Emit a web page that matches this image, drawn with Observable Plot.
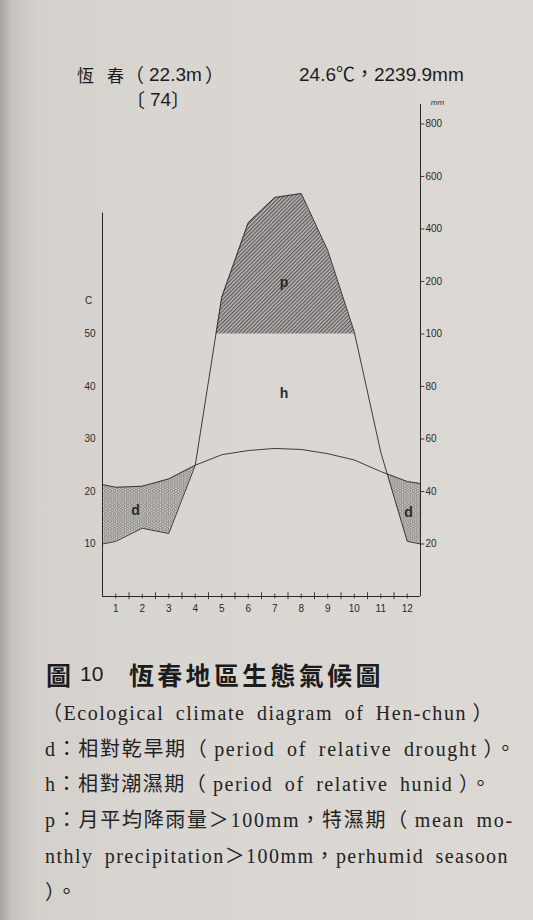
<!DOCTYPE html>
<html lang="zh-Hant"><head><meta charset="utf-8">
<script src="https://cdn.jsdelivr.net/npm/d3@7"></script>
<script src="https://cdn.jsdelivr.net/npm/@observablehq/plot@0.6"></script>
<style>
html,body{margin:0;padding:0}
body{width:533px;height:920px;position:relative;overflow:hidden;
 background:linear-gradient(90deg,#a7a4a0 0px,#c6c3bf 12px,#d4d1cd 36px,#d9d6d2 160px,#dcd9d5 533px);
 color:#1c1c1c;font-family:"Liberation Sans","Noto Sans CJK TC",sans-serif}
.t{position:absolute;white-space:nowrap;line-height:24px}
.cap{position:absolute;white-space:nowrap;left:45px;font-family:"Liberation Serif","Noto Sans CJK TC",serif;font-size:20px;line-height:30px;letter-spacing:1.5px;word-spacing:5px;color:#222}
#chart{position:absolute;left:0;top:90px}
#chart g[aria-label="temperature ticks"] text,
#chart g[aria-label="precipitation ticks"] text,
#chart g[aria-label="unit"] text{letter-spacing:2.6px}
</style></head><body>
<svg width="0" height="0" style="position:absolute">
 <defs>
  <pattern id="dots" patternUnits="userSpaceOnUse" width="4.4" height="7.6">
    <rect width="4.4" height="7.6" fill="#cbc8c4"/>
    <circle cx="2.2" cy="1.9" r="1.45" fill="none" stroke="#5f5d5b" stroke-width="0.65"/>
    <circle cx="0" cy="5.7" r="1.45" fill="none" stroke="#5f5d5b" stroke-width="0.65"/>
    <circle cx="4.4" cy="5.7" r="1.45" fill="none" stroke="#5f5d5b" stroke-width="0.65"/>
  </pattern>
  <pattern id="hatch" patternUnits="userSpaceOnUse" width="2.7" height="2.7" patternTransform="rotate(45)">
    <rect width="2.7" height="2.7" fill="#b4b1ae"/>
    <line x1="0.6" y1="0" x2="0.6" y2="2.7" stroke="#4a4948" stroke-width="0.95"/>
  </pattern>
 </defs>
</svg>

<div class="t" style="left:77px;top:63px;font-family:'Noto Sans CJK TC';font-size:17px">恆</div>
<div class="t" style="left:107px;top:63px;font-family:'Noto Sans CJK TC';font-size:17px">春</div>
<div class="t" style="left:125px;top:63px;font-family:'Noto Sans CJK TC';font-size:19px">（</div>
<div class="t" style="left:149px;top:63px;font-size:19px">22.3m</div>
<div class="t" style="left:205px;top:63px;font-family:'Noto Sans CJK TC';font-size:19px">）</div>
<div class="t" style="left:126px;top:88px;font-family:'Noto Sans CJK TC';font-size:19px">〔</div>
<div class="t" style="left:150px;top:88px;font-size:19px">74</div>
<div class="t" style="left:171px;top:88px;font-family:'Noto Sans CJK TC';font-size:19px">〕</div>
<div class="t" style="left:299px;top:63px;font-size:19px">24.6℃，2239.9mm</div>

<div id="chart"></div>

<div class="t" style="left:46px;top:659px;font-family:'Noto Sans CJK TC';font-weight:700;font-size:25px;line-height:30px">圖</div>
<div class="t" style="left:80px;top:659px;font-family:'Liberation Sans';font-size:21px;line-height:30px">10</div>
<div class="t" style="left:129px;top:659px;font-family:'Noto Sans CJK TC';font-weight:700;font-size:25px;line-height:30px;letter-spacing:3.3px">恆春地區生態氣候圖</div>

<div class="cap" data-right="494" style="top:698px;left:42px">（Ecological climate diagram of Hen-chun&thinsp;）</div>
<div class="cap" data-right="517" style="top:734px">d：相對乾旱期（&thinsp;period of relative drought&thinsp;）。</div>
<div class="cap" data-right="492" style="top:769px">h：相對潮濕期（&thinsp;period of relative hunid&thinsp;）。</div>
<div class="cap" data-right="514" style="top:805px">p：月平均降雨量＞100mm，特濕期（&thinsp;mean mo-</div>
<div class="cap" data-right="509" style="top:841px">nthly precipitation＞100mm，perhumid seasoon</div>
<div class="cap" style="top:877px">）。</div>

<script>
// ---- data ----
const months = [1,2,3,4,5,6,7,8,9,10,11,12];
const monthLabels = ["1","2","3","4","5","6","7","8","9","10","11","12"];
const temperatureC = [20.8,21.0,22.4,25.0,27.0,27.8,28.2,28.0,27.2,26.0,23.8,21.9];
const precipitationMm = [21,26,24,50,170,424,520,535,318,104,55,21];
const borderMonths = [0.5,12.5];
const borderTemperatureC = [21.3,21.5];
const borderPrecipitationMm = [20,20];
const tempTicks = [10,20,30,40,50];
const precipTicks = [20,40,60,80,100,200,400,600,800];
const perhumidMm = 100;

// Walter–Lieth vertical scale: 10 °C = 20 mm below 100 mm, compressed above
const mmToC = mm => mm <= 100 ? mm/2 : mm <= 200 ? 50 + (mm-100)/10 : 60 + (mm-200)/20;

const xs = [borderMonths[0], ...months, borderMonths[1]];
const T = [borderTemperatureC[0], ...temperatureC, borderTemperatureC[1]];
const P = [borderPrecipitationMm[0], ...precipitationMm, borderPrecipitationMm[1]].map(mmToC);
const series = xs.map((x,i)=>({x, t:T[i], p:P[i]}));

// band between b (bottom) and a where a > b, with crossing points inserted
function band(xa, a, b){
  const rows=[];
  for(let i=0;i<xa.length;i++){
    if(i>0){
      const d0=a[i-1]-b[i-1], d1=a[i]-b[i];
      if(d0*d1<0){
        const f=d0/(d0-d1);
        const x=xa[i-1]+f*(xa[i]-xa[i-1]);
        const y=b[i-1]+f*(b[i]-b[i-1]);
        rows.push({x,lo:y,hi:y});
      }
    }
    rows.push({x:xa[i],lo:b[i],hi:Math.max(a[i],b[i])});
  }
  return rows;
}
const dryRows = band(xs, T, P);
const wetRows = band(xs, P, xs.map(()=>mmToC(perhumidMm)));

const ink = "#2a2a2a";
const plot = Plot.plot({
  width:533, height:540,
  marginLeft:102, marginRight:113, marginTop:14, marginBottom:34,
  x:{domain:[0.5,12.5], axis:null},
  y:{domain:[0,93.7], axis:null},
  style:{background:"transparent", color:ink, fontFamily:"'Liberation Sans', sans-serif", fontSize:"10px", overflow:"visible"},
  marks:[
    Plot.areaY(dryRows,{x:"x", y1:"lo", y2:"hi", fill:"url(#dots)"}),
    Plot.areaY(wetRows,{x:"x", y1:"lo", y2:"hi", fill:"url(#hatch)"}),
    Plot.line(series,{x:"x", y:"t", stroke:ink, strokeWidth:0.9}),
    Plot.line(series,{x:"x", y:"p", stroke:ink, strokeWidth:0.9}),
    Plot.ruleX([0.5],{y1:0, y2:73, stroke:ink, strokeWidth:1}),
    Plot.ruleX([12.5],{y1:0, y2:93.7, stroke:ink, strokeWidth:1}),
    Plot.ruleY([0],{x1:0.5, x2:12.5, stroke:ink, strokeWidth:1.1}),
    Plot.ruleX(months,{y1:-0.45, y2:0.45, stroke:ink, strokeWidth:0.9}),
    Plot.ruleX(months.slice(0,-1).map(m=>m+0.5),{y1:-0.6, y2:0.7, stroke:ink, strokeWidth:0.9}),
    Plot.text(months,{x:d=>d, y:0, text:(d,i)=>monthLabels[i], dy:12, fontSize:10}),
    Plot.text(tempTicks,{x:0.5, y:d=>d, text:d=>String(d), textAnchor:"end", dx:-7, fontSize:10, ariaLabel:"temperature ticks"}),
    Plot.text(["C"],{x:0.5, y:56.4, text:d=>d, dx:-14, fontSize:10, ariaLabel:"unit"}),
    Plot.ruleY(precipTicks,{y:mmToC, x1:12.5, x2:12.66, stroke:ink, strokeWidth:0.9}),
    Plot.text(precipTicks,{x:12.5, y:mmToC, text:d=>String(d), textAnchor:"start", dx:5, fontSize:10, ariaLabel:"precipitation ticks"}),
    Plot.text(["mm"],{x:12.5, y:93.7, text:d=>d, dx:17, dy:-2, fontSize:8, fontStyle:"italic"}),
    Plot.text(["p"],{x:7.35, y:59.8, text:d=>d, fontWeight:"bold", fontSize:14}),
    Plot.text(["h"],{x:7.35, y:38.7, text:d=>d, fontWeight:"bold", fontSize:14}),
    Plot.text(["d"],{x:1.75, y:16.4, text:d=>d, fontWeight:"bold", fontSize:14}),
    Plot.text(["d"],{x:12.05, y:16.0, text:d=>d, fontWeight:"bold", fontSize:14})
  ]
});
document.getElementById("chart").appendChild(plot);

// fit each caption line to the width it has in the printed page (spread over letters)
function fitCaptions(){
  document.querySelectorAll(".cap[data-right]").forEach(el=>{
    const target=+el.dataset.right;
    const n=el.textContent.length;
    el.style.letterSpacing="1.5px";
    const r=el.getBoundingClientRect().right;
    el.style.letterSpacing=(1.5+(target-r)/n)+"px";
  });
}
fitCaptions();
if(document.fonts && document.fonts.ready) document.fonts.ready.then(fitCaptions);
</script>
</body></html>
